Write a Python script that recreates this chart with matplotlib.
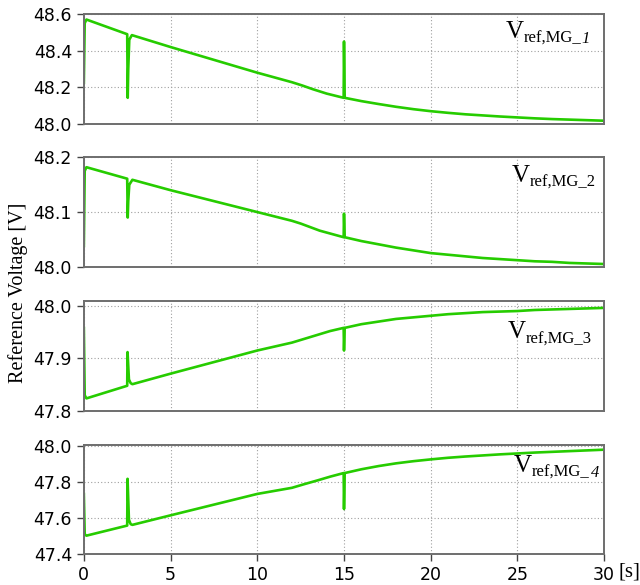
import numpy as np
import matplotlib
matplotlib.use('Agg')
import matplotlib.pyplot as plt

# time [s] and reference voltages [V]
t_tail = [16, 17, 18, 19, 20, 21, 22, 23, 24, 25, 26, 27, 28, 29, 30]

t1 = [0, 0.05, 0.15, 2.5, 2.53, 2.56, 2.62, 2.77, 5, 10, 12, 12.6, 13.2, 14, 14.98, 15.0,
      15.04] + t_tail
v1 = [48.225, 48.55, 48.57, 48.49, 48.143, 48.30, 48.46, 48.485, 48.42, 48.28, 48.228,
      48.21, 48.19, 48.166, 48.143, 48.45, 48.143,
      48.125, 48.109, 48.094, 48.081, 48.070, 48.061, 48.053, 48.047, 48.041, 48.036,
      48.031, 48.027, 48.024, 48.021, 48.018]

t2 = [0, 0.05, 0.15, 2.5, 2.53, 2.56, 2.62, 2.8, 5, 10, 12, 12.5, 13.6, 14.98, 15.0,
      15.04] + t_tail
v2 = [48.038, 48.175, 48.182, 48.161, 48.09, 48.12, 48.15, 48.159, 48.14, 48.10, 48.084,
      48.079, 48.066, 48.054, 48.097, 48.054,
      48.047, 48.041, 48.035, 48.030, 48.025, 48.022, 48.019, 48.016, 48.014, 48.012,
      48.010, 48.009, 48.007, 48.006, 48.005]

t3 = [0, 0.05, 0.15, 2.5, 2.52, 2.6, 2.7, 2.8, 5, 10, 12, 12.7, 13.5, 14.2, 14.98, 15.0,
      15.04] + t_tail
v3 = [47.958, 47.83, 47.824, 47.848, 47.912, 47.86, 47.853, 47.851, 47.871, 47.915, 47.930,
      47.937, 47.945, 47.952, 47.958, 47.915, 47.958,
      47.965, 47.970, 47.975, 47.978, 47.981, 47.984, 47.986, 47.988, 47.989, 47.990,
      47.992, 47.993, 47.994, 47.995, 47.996]

t4 = [0, 0.05, 0.15, 2.5, 2.52, 2.6, 2.7, 2.8, 5, 10, 12, 12.7, 13.5, 14.2, 14.98, 15.0,
      15.04] + t_tail
v4 = [47.734, 47.51, 47.502, 47.558, 47.818, 47.59, 47.566, 47.562, 47.615, 47.734, 47.768,
      47.788, 47.81, 47.83, 47.85, 47.65, 47.85,
      47.871, 47.889, 47.904, 47.916, 47.926, 47.935, 47.942, 47.948, 47.954, 47.959,
      47.964, 47.968, 47.972, 47.976, 47.980]

series = [(t1, v1), (t2, v2), (t3, v3), (t4, v4)]
ylims = [(48.0, 48.6), (48.0, 48.2), (47.8, 48.009), (47.4, 48.005)]
yticks = [[48.0, 48.2, 48.4, 48.6], [48.0, 48.1, 48.2], [47.8, 47.9, 48.0],
          [47.4, 47.6, 47.8, 48.0]]
# subscript text, index digit, digit italic?
subs = [('ref,MG_', '1', True), ('ref,MG_', '2', False), ('ref,MG_', '3', False),
        ('ref,MG_', '4', True)]
label_pos = [(0.81, 0.74), (0.823, 0.73), (0.815, 0.615), (0.827, 0.71)]
# axes boxes (left, bottom, width, height) in figure fraction
boxes = [(0.131, 0.788, 0.813, 0.188), (0.131, 0.544, 0.813, 0.187),
         (0.131, 0.2974, 0.813, 0.188), (0.131, 0.053, 0.813, 0.186)]

fig = plt.figure(figsize=(6.4, 5.85), dpi=100)
green = '#26cc00'
serif = 'Liberation Serif'

for i, ((t, v), box) in enumerate(zip(series, boxes)):
    ax = fig.add_axes(box)
    ax.plot(t, v, color=green, lw=1.9)
    ax.set_xlim(0, 30)
    ax.set_ylim(*ylims[i])
    ax.set_yticks(yticks[i])
    ax.set_xticks(np.arange(0, 31, 5))
    ax.grid(True, ls=(0, (1, 2)), color='#a0a0a0', lw=0.8)
    for s in ax.spines.values():
        s.set_color('#6e6e6e')
        s.set_linewidth(1.4)
    ax.tick_params(axis='y', labelsize=12.5, length=5, color='#444444', width=1)
    if i < 3:
        ax.tick_params(axis='x', length=0, labelbottom=False)
    else:
        ax.tick_params(axis='x', labelsize=12.5, length=5, color='#444444', width=1)
    ax.yaxis.set_major_formatter(matplotlib.ticker.FormatStrFormatter('%.1f'))

    sub, digit, ital = subs[i]
    tv = ax.text(label_pos[i][0], label_pos[i][1], 'V', transform=ax.transAxes,
                 fontsize=18, family=serif, va='bottom', ha='left')
    ts = ax.annotate(sub if ital else sub + digit, xy=(1, 0), xycoords=tv,
                     xytext=(0, -3), textcoords='offset points',
                     fontsize=12, family=serif, va='bottom', ha='left')
    if ital:
        ax.annotate(digit, xy=(1, 0), xycoords=ts, xytext=(0.5, 0),
                    textcoords='offset points', fontsize=12, family=serif,
                    style='italic', va='bottom', ha='left')

fig.text(0.028, 0.5, 'Reference Voltage [V]', rotation=90, va='center', ha='center',
         fontsize=14.5, family=serif)
fig.text(0.966, 0.022, '[s]', fontsize=15, family=serif, ha='left', va='center')

fig.savefig('out.png', dpi=100)
